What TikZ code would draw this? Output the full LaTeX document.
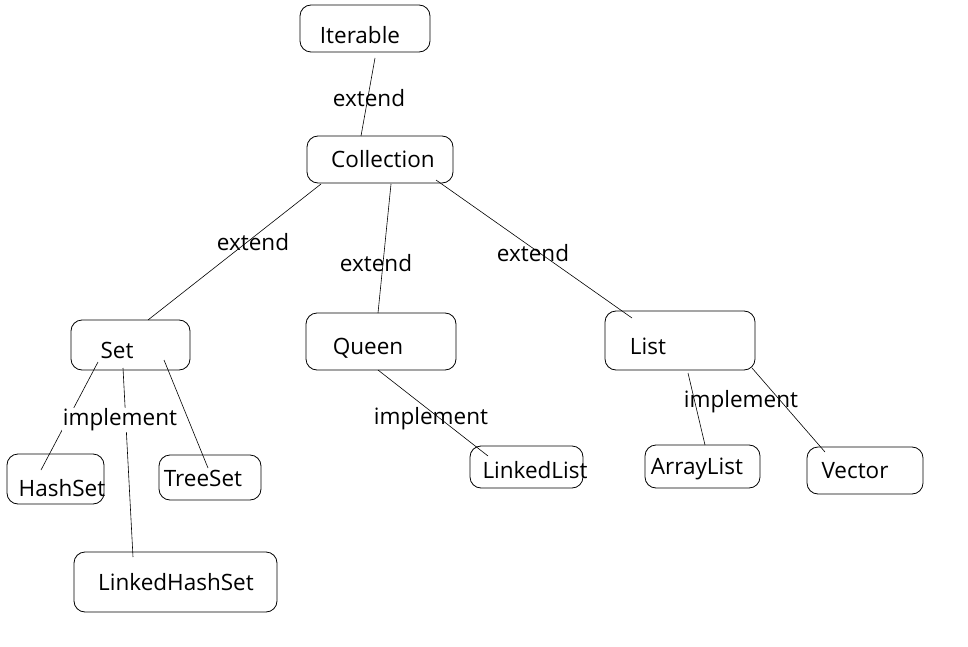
\documentclass[tikz,border=0pt]{standalone}
\usepackage{fontspec}
\setmainfont{Open Sans}
\begin{document}
\begin{tikzpicture}[x=1pt,y=-1pt,
  box/.style={draw, line width=0.8pt, rounded corners=11pt, inner sep=0pt},
  txt/.style={font=\fontsize{22.5}{26}\selectfont, inner sep=0pt},
  lbl/.style={font=\fontsize{22.5}{26}\selectfont, inner sep=1pt},
  conn/.style={line width=0.6pt}]
\useasboundingbox (0,0) rectangle (968,647);
% boxes
\node[box, minimum width=130pt, minimum height=47pt] (iter) at (365,28.5) {};
\node[box, minimum width=146pt, minimum height=47pt] (coll) at (380,159.5) {};
\node[box, minimum width=119pt, minimum height=50pt] (set) at (130.5,345) {};
\node[box, minimum width=150pt, minimum height=57pt] (queen) at (381,341.5) {};
\node[box, minimum width=150pt, minimum height=59pt] (list) at (680,340.5) {};
\node[box, minimum width=97pt, minimum height=50pt] (hash) at (55.5,479) {};
\node[box, minimum width=102pt, minimum height=45pt] (tree) at (210,477.5) {};
\node[box, minimum width=203pt, minimum height=60pt] (lhs) at (175.5,582) {};
\node[box, minimum width=113pt, minimum height=42pt] (llist) at (526.5,467) {};
\node[box, minimum width=115pt, minimum height=43pt] (alist) at (702.5,466.5) {};
\node[box, minimum width=116pt, minimum height=47pt] (vec) at (865,470.5) {};
% texts
\node[txt] (iterT) at (360,35) {Iterable};
\node[txt] (collT) at (383,159) {Collection};
\node[txt] (setT) at (117,350) {Set};
\node[txt] (queenT) at (368,348) {Queen};
\node[txt] (listT) at (648,346) {List};
\node[txt] (hashT) at (62,488) {HashSet};
\node[txt] (treeT) at (203,478) {TreeSet};
\node[txt] (lhsT) at (176,582) {LinkedHashSet};
\node[txt] (llistT) at (535,470) {LinkedList};
\node[txt] (alistT) at (697,469) {ArrayList};
\node[txt] (vecT) at (855,471) {Vector};
% connectors
\draw[conn] ([shift={(10,29.5)}]iter.center) -- ([shift={(-19,-23.5)}]coll.center);
\draw[conn] ([shift={(-59,24.5)}]coll.center) -- ([shift={(17.5,-25)}]set.center);
\draw[conn] ([shift={(11,24.5)}]coll.center) -- ([shift={(-3,-28.5)}]queen.center);
\draw[conn] ([shift={(56,20.5)}]coll.center) -- ([shift={(-48,-22.5)}]list.center);
\draw[conn] ([shift={(-32.5,17)}]set.center) -- ([shift={(-14.5,-9)}]hash.center);
\draw[conn] ([shift={(-7.5,23)}]set.center) -- ([shift={(-42.5,-25)}]lhs.center);
\draw[conn] ([shift={(33.5,15)}]set.center) -- ([shift={(-2,-9.5)}]tree.center);
\draw[conn] ([shift={(-3,28.5)}]queen.center) -- ([shift={(-38.5,-11)}]llist.center);
\draw[conn] ([shift={(8,32.5)}]list.center) -- ([shift={(2.5,-21.5)}]alist.center);
\draw[conn] ([shift={(72,27.5)}]list.center) -- ([shift={(-40,-18.5)}]vec.center);
% labels
\node[lbl] (l1) at (369,98) {extend};
\node[lbl] (l2) at (253,242) {extend};
\node[lbl] (l3) at (376,263) {extend};
\node[lbl] (l4) at (533,253) {extend};
\node[lbl, fill=white] (l5) at (120,420) {implement};
\node[lbl] (l6) at (431,419) {implement};
\node[lbl] (l7) at (741,402) {implement};
\end{tikzpicture}
\end{document}
